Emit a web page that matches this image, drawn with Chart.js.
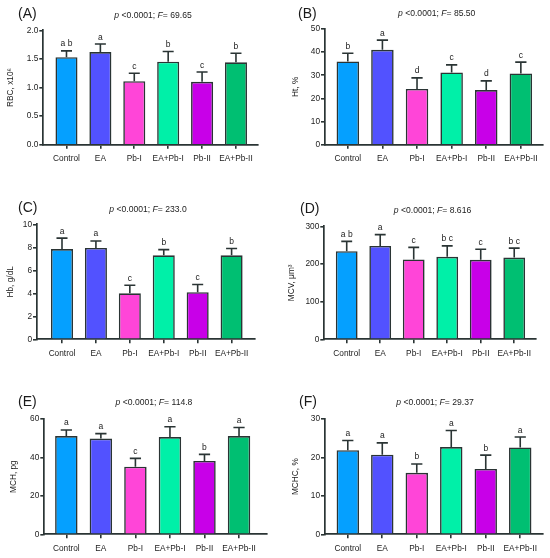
<!DOCTYPE html>
<html>
<head>
<meta charset="utf-8">
<script src="https://cdn.jsdelivr.net/npm/chart.js@4.4.1/dist/chart.umd.min.js"></script>
<style>
  html, body { margin: 0; padding: 0; background: #fff; }
  #wrap { position: relative; width: 550px; height: 558px; }
  #wrap canvas { position: absolute; }
</style>
</head>
<body>
<div id="wrap"></div>
<script>
// Groups (x categories)
const groups = ['Control', 'EA', 'Pb-I', 'EA+Pb-I', 'Pb-II', 'EA+Pb-II'];

// (A) RBC
const rbcMean = [1.53, 1.62, 1.11, 1.45, 1.10, 1.44];
const rbcSd = [0.11, 0.14, 0.14, 0.18, 0.17, 0.16];
const rbcLetters = ['a b', 'a', 'c', 'b', 'c', 'b'];
// (B) Ht
const htMean = [36.0, 41.0, 24.1, 31.2, 23.6, 30.8];
const htSd = [3.5, 4.2, 4.8, 3.3, 4.0, 4.9];
const htLetters = ['b', 'a', 'd', 'c', 'd', 'c'];
// (C) Hb
const hbMean = [7.85, 7.95, 4.0, 7.3, 4.1, 7.3];
const hbSd = [0.95, 0.6, 0.7, 0.5, 0.67, 0.6];
const hbLetters = ['a', 'a', 'c', 'b', 'c', 'b'];
// (D) MCV
const mcvMean = [234, 248, 212, 219, 211, 217];
const mcvSd = [26, 30, 32, 29, 28, 25];
const mcvLetters = ['a b', 'a', 'c', 'b c', 'c', 'b c'];
// (E) MCH
const mchMean = [51.1, 49.8, 35.2, 50.6, 38.2, 51.1];
const mchSd = [3.2, 2.6, 4.3, 5.4, 3.4, 4.5];
const mchLetters = ['a', 'a', 'c', 'a', 'b', 'a'];
// (F) MCHC
const mchcMean = [21.9, 20.7, 16.0, 22.7, 17.0, 22.6];
const mchcSd = [2.5, 3.1, 2.3, 4.3, 3.6, 2.7];
const mchcLetters = ['a', 'a', 'b', 'a', 'b', 'a'];

// ANOVA stats
const pText = '<0.0001';
const fValues = ['69.65', '85.50', '233.0', '8.616', '114.8', '29.37'];

// Y axis titles and ticks
const yTitles = ['RBC, x10\u2076', 'Ht, %', 'Hb, g/dL', 'MCV, \u03bcm\u00b3', 'MCH, pg', 'MCHC, %'];
const yMax = [2, 50, 10, 300, 60, 30];
const yStep = [0.5, 10, 2, 100, 20, 10];
const yDecimals = [1, 0, 0, 0, 0, 0];

const panelLabels = ['(A)', '(B)', '(C)', '(D)', '(E)', '(F)'];

const barColors = ['#05a0ff', '#5252ff', '#ff45d8', '#00f0a8', '#c800e8', '#00bf72'];
const edge = '#2a3434';
const ink = '#222222';
const FONT = "'Liberation Sans', Arial, Helvetica, sans-serif";

// Panel layout: canvas placement and plot box (local px)
const layout = [
  { left: 0,   top: 0,   w: 275, h: 185, axisX: 43.3, right: 258, plotTop: 30.3, bottom: 144.7, xMin: -0.684, xMax: 5.65, lab: [18, 14], sub: [153, 16], yt: 10.5 },
  { left: 275, top: 0,   w: 275, h: 185, axisX: 50,   right: 268, plotTop: 29,   bottom: 144.7, xMin: -0.659, xMax: 5.64, lab: [23, 14], sub: [161.7, 13.5], yt: 21 },
  { left: 0,   top: 185, w: 275, h: 185, axisX: 37,   right: 255, plotTop: 39.3, bottom: 154.3, xMin: -0.737, xMax: 5.69, lab: [18, 23.3], sub: [148, 24.3], yt: 11 },
  { left: 275, top: 185, w: 275, h: 185, axisX: 49.3, right: 261, plotTop: 41.3, bottom: 154.3, xMin: -0.669, xMax: 5.65, lab: [25, 24], sub: [157.5, 25.3], yt: 16.7 },
  { left: 0,   top: 370, w: 275, h: 188, axisX: 44.3, right: 267, plotTop: 49,   bottom: 164.3, xMin: -0.638, xMax: 5.81, lab: [18, 31.7], sub: [154, 32.7], yt: 14 },
  { left: 275, top: 370, w: 275, h: 188, axisX: 50,   right: 268, plotTop: 49,   bottom: 164.3, xMin: -0.661, xMax: 5.66, lab: [24, 31.7], sub: [160, 32.7], yt: 21 }
];

const means = [rbcMean, htMean, hbMean, mcvMean, mchMean, mchcMean];
const sds = [rbcSd, htSd, hbSd, mcvSd, mchSd, mchcSd];
const letters = [rbcLetters, htLetters, hbLetters, mcvLetters, mchLetters, mchcLetters];

function drawSubtitle(ctx, cx, cy, fVal) {
  const parts = [
    ['italic', 'p'], ['normal', ' ' + pText + '; '], ['italic', 'F'], ['normal', '= ' + fVal]
  ];
  let total = 0;
  parts.forEach(p => { ctx.font = p[0] + ' 8.6px ' + FONT; total += ctx.measureText(p[1]).width; });
  let x = cx - total / 2;
  ctx.textAlign = 'left';
  ctx.textBaseline = 'middle';
  parts.forEach(p => {
    ctx.font = p[0] + ' 8.6px ' + FONT;
    ctx.fillText(p[1], x, cy);
    x += ctx.measureText(p[1]).width;
  });
}

const wrap = document.getElementById('wrap');

layout.forEach((L, k) => {
  const canvas = document.createElement('canvas');
  canvas.width = L.w;
  canvas.height = L.h;
  canvas.style.left = L.left + 'px';
  canvas.style.top = L.top + 'px';
  canvas.style.width = L.w + 'px';
  canvas.style.height = L.h + 'px';
  wrap.appendChild(canvas);

  const deco = {
    id: 'deco' + k,
    afterDatasetsDraw(chart) {
      const { ctx, scales: { x, y } } = chart;
      const meta = chart.getDatasetMeta(0);
      ctx.save();
      ctx.strokeStyle = edge;
      ctx.lineWidth = 1.6;
      ctx.fillStyle = ink;
      ctx.font = '8.5px ' + FONT;
      ctx.textAlign = 'center';
      ctx.textBaseline = 'alphabetic';
      means[k].forEach((m, i) => {
        const px = x.getPixelForValue(i);
        const y0 = y.getPixelForValue(m);
        const y1 = y.getPixelForValue(m + sds[k][i]);
        const cap = meta.data[i].width / 4;
        ctx.beginPath();
        ctx.moveTo(px, y0);
        ctx.lineTo(px, y1);
        ctx.moveTo(px - cap, y1);
        ctx.lineTo(px + cap, y1);
        ctx.stroke();
        ctx.fillText(letters[k][i], px, y1 - 4.5);
      });
      ctx.restore();
    },
    afterDraw(chart) {
      const { ctx, chartArea } = chart;
      ctx.save();
      ctx.fillStyle = '#1a1a1a';
      ctx.font = '14px ' + FONT;
      ctx.textAlign = 'left';
      ctx.textBaseline = 'middle';
      ctx.fillText(panelLabels[k], L.lab[0], L.lab[1]);
      ctx.fillStyle = ink;
      drawSubtitle(ctx, L.sub[0], L.sub[1], fValues[k]);
      // y axis title
      ctx.translate(L.yt, (chartArea.top + chartArea.bottom) / 2);
      ctx.rotate(-Math.PI / 2);
      ctx.font = '8.3px ' + FONT;
      ctx.textAlign = 'center';
      ctx.textBaseline = 'middle';
      ctx.fillText(yTitles[k], 0, 0);
      ctx.restore();
    }
  };

  new Chart(canvas, {
    type: 'bar',
    data: {
      datasets: [{
        data: means[k].map((v, i) => ({ x: i, y: v })),
        backgroundColor: barColors,
        borderColor: edge,
        borderWidth: 1.6,
        barPercentage: 0.65,
        categoryPercentage: 1
      }]
    },
    options: {
      responsive: false,
      animation: false,
      devicePixelRatio: 1,
      layout: { padding: { left: 0, top: L.plotTop, right: L.w - L.right, bottom: 0 } },
      plugins: { legend: { display: false }, tooltip: { enabled: false } },
      scales: {
        x: {
          type: 'linear',
          min: L.xMin,
          max: L.xMax,
          offset: false,
          afterFit(s) { s.height = L.h - L.bottom; },
          afterBuildTicks(s) { s.ticks = groups.map((g, i) => ({ value: i })); },
          ticks: {
            callback: v => groups[v],
            font: { family: FONT, size: 8.3 },
            color: ink,
            padding: 5,
            maxRotation: 0,
            autoSkip: false
          },
          grid: { drawOnChartArea: false, offset: false, tickLength: 4, color: edge, lineWidth: 1.6 },
          border: { color: edge, width: 1.7 }
        },
        y: {
          min: 0,
          max: yMax[k],
          afterFit(s) { s.width = L.axisX; },
          ticks: {
            stepSize: yStep[k],
            callback: v => v.toFixed(yDecimals[k]),
            font: { family: FONT, size: 8.3 },
            color: ink,
            padding: 1
          },
          grid: { drawOnChartArea: false, tickLength: 4, color: edge, lineWidth: 1.6 },
          border: { color: edge, width: 1.7 }
        }
      }
    },
    plugins: [deco]
  });
});
</script>
</body>
</html>
